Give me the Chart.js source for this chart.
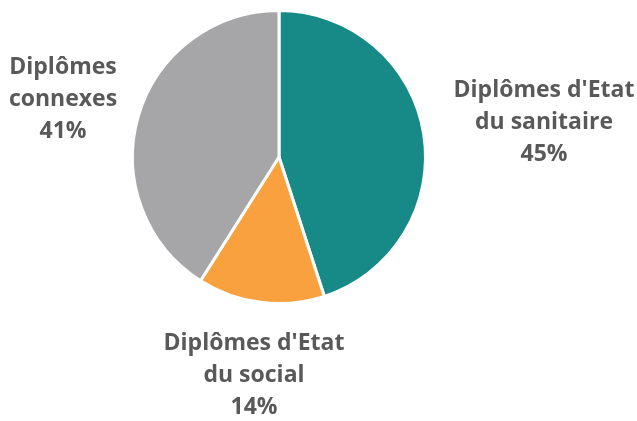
<!DOCTYPE html>
<html>
<head>
<meta charset="utf-8">
<script src="https://cdn.jsdelivr.net/npm/chart.js@4"></script>
<style>
  html, body { margin: 0; padding: 0; background: #fff; }
  #wrap { width: 637px; height: 421px; position: relative; }
</style>
</head>
<body>
<div id="wrap"><canvas id="camembert"></canvas></div>
<script>
// --- Données ---
const categories = [
  ["Diplômes d'Etat", "du sanitaire"],
  ["Diplômes d'Etat", "du social"],
  ["Diplômes", "connexes"]
];
const pourcentages = [45, 14, 41];
const couleurs = ['#178a88', '#f9a13f', '#a6a6a8'];

// --- Plugin pour les libellés autour du camembert ---
// chaque bloc de texte est centré sur un décalage (en px) par rapport au centre du camembert
const libellesExterieurs = {
  id: 'libellesExterieurs',
  afterDatasetsDraw(chart, args, opts) {
    const ctx = chart.ctx;
    const meta = chart.getDatasetMeta(0);
    const valeurs = chart.data.datasets[0].data;
    ctx.save();
    ctx.font = opts.font;
    ctx.fillStyle = opts.color;
    ctx.textAlign = 'center';
    ctx.textBaseline = 'middle';
    meta.data.forEach((arc, i) => {
      const [dx, dy] = opts.decalages[i];
      const cx = arc.x + dx;
      const cy = arc.y + dy;
      const lignes = [...chart.data.labels[i], valeurs[i] + '%'];
      const haut = cy - (lignes.length - 1) * opts.interligne / 2;
      lignes.forEach((txt, j) => ctx.fillText(txt, cx, haut + j * opts.interligne));
    });
    ctx.restore();
  }
};

new Chart(document.getElementById('camembert'), {
  type: 'pie',
  data: {
    labels: categories,
    datasets: [{
      data: pourcentages,
      backgroundColor: couleurs,
      borderColor: '#ffffff',
      borderWidth: 3
    }]
  },
  options: {
    responsive: true,
    maintainAspectRatio: false,
    animation: false,
    layout: { padding: { left: 131, right: 210, top: 9, bottom: 116 } },
    plugins: {
      legend: { display: false },
      tooltip: { enabled: false },
      libellesExterieurs: {
        font: 'bold 23px "Open Sans"',
        color: '#595959',
        interligne: 32,
        decalages: [[265, -35], [-25, 218], [-216, -58]]
      }
    }
  },
  plugins: [libellesExterieurs]
});
</script>
</body>
</html>
